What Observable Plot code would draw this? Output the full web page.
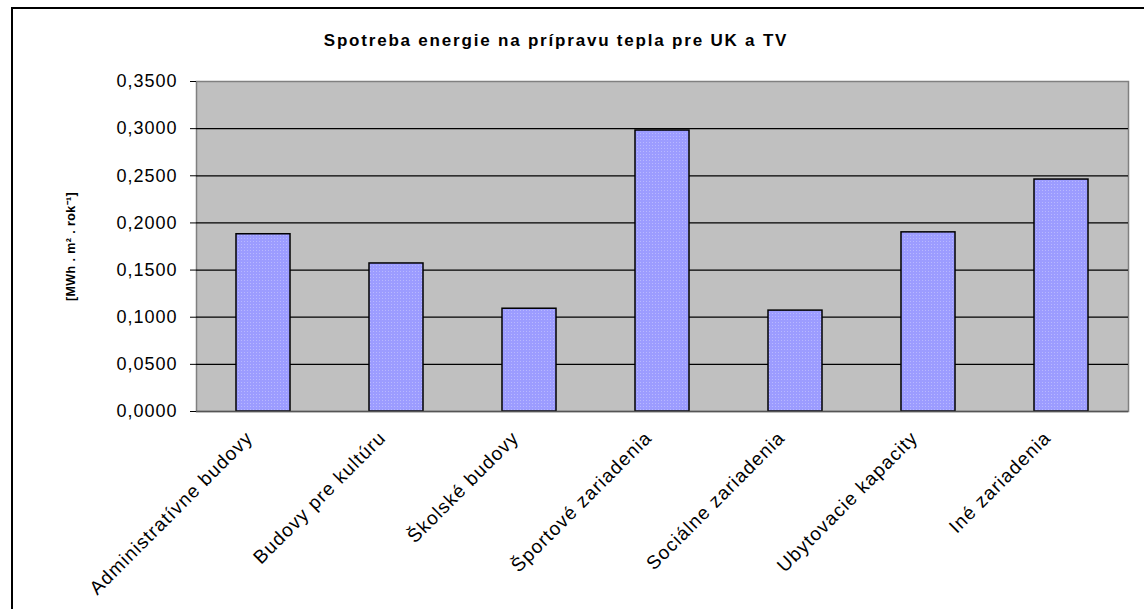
<!DOCTYPE html>
<html>
<head>
<meta charset="utf-8">
<script src="https://cdn.jsdelivr.net/npm/d3@7"></script>
<script src="https://cdn.jsdelivr.net/npm/@observablehq/plot@0.6"></script>
<style>
  html, body { margin: 0; padding: 0; background: #fff; overflow: hidden; width: 1144px; height: 609px; }
  #frame { position: absolute; left: 11px; top: 7px; width: 1300px; height: 800px; border: 2px solid #000; box-sizing: border-box; }
  #title { position: absolute; left: 0; width: 1112px; top: 31px; text-align: center; font: bold 17px Arial, "Liberation Sans", sans-serif; letter-spacing: 1.8px; color: #000; }
  #chart { position: absolute; left: 0; top: 0; }
</style>
</head>
<body>
<div id="frame"></div>
<div id="title">Spotreba energie na prípravu tepla pre UK a TV</div>
<div id="chart"></div>
<script>
const categories = ["Administratívne budovy", "Budovy pre kultúru", "Školské budovy", "Športové zariadenia", "Sociálne zariadenia", "Ubytovacie kapacity", "Iné zariadenia"];
const values = [0.188, 0.157, 0.109, 0.298, 0.107, 0.190, 0.246];
const yTicks = [0, 0.05, 0.10, 0.15, 0.20, 0.25, 0.30, 0.35];
const yLabel = "[MWh . m² . rok⁻¹]";

const data = categories.map((c, i) => ({category: c, value: values[i]}));
const fmt = d => d.toFixed(4).replace(".", ",");

const chart = Plot.plot({
  width: 1144,
  height: 609,
  marginLeft: 196,
  marginRight: 16,
  marginTop: 81,
  marginBottom: 198,
  style: {fontFamily: 'Arial, "Liberation Sans", sans-serif', color: "#000", background: "transparent"},
  x: {domain: categories, paddingInner: 0.595, paddingOuter: 0.2975, axis: null},
  y: {domain: [0, 0.35], ticks: yTicks, axis: null},
  marks: [
    Plot.frame({fill: "#c0c0c0", stroke: "#808080", strokeWidth: 1.5}),
    Plot.ruleY(yTicks.filter(d => d > 0 && d < 0.35), {stroke: "#000", strokeWidth: 1.3}),
    Plot.barY(data, {x: "category", y: "value", fill: "url(#dots)", stroke: "#000", strokeWidth: 1.5}),
    Plot.ruleY([0], {stroke: "#555", strokeWidth: 1.5}),
    Plot.axisY({ticks: yTicks, tickFormat: fmt, tickSize: 6, tickPadding: 13, fontSize: 18, label: yLabel, labelArrow: "none", labelAnchor: "center", labelOffset: 130, stroke: "#000"}),
    Plot.ruleX([0], {frameAnchor: "left", stroke: "#000", strokeWidth: 1.5}),
    Plot.text(data, {x: "category", frameAnchor: "bottom", text: "category", rotate: -45, textAnchor: "end", lineAnchor: "top", dx: -19, dy: 18, fontSize: 19})
  ]
});

const svg = d3.select(chart);
const defs = svg.insert("defs", ":first-child");
const pat = defs.append("pattern").attr("id", "dots").attr("width", 3).attr("height", 3).attr("patternUnits", "userSpaceOnUse");
pat.append("rect").attr("width", 3).attr("height", 3).attr("fill", "#9c9cff");
pat.append("rect").attr("x", 1).attr("y", 1).attr("width", 1).attr("height", 1).attr("fill", "#b8b8ff");
svg.selectAll("g[aria-label='y-axis tick label'] text").style("letter-spacing", "1px");
svg.selectAll("g[aria-label='y-axis label'] text").text(yLabel).style("font-size", "12.5px").style("font-weight", "bold").style("letter-spacing", "0.4px");
svg.selectAll("g[aria-label='text'] text").style("letter-spacing", "1.1px");
document.getElementById("chart").appendChild(chart);
</script>
</body>
</html>
